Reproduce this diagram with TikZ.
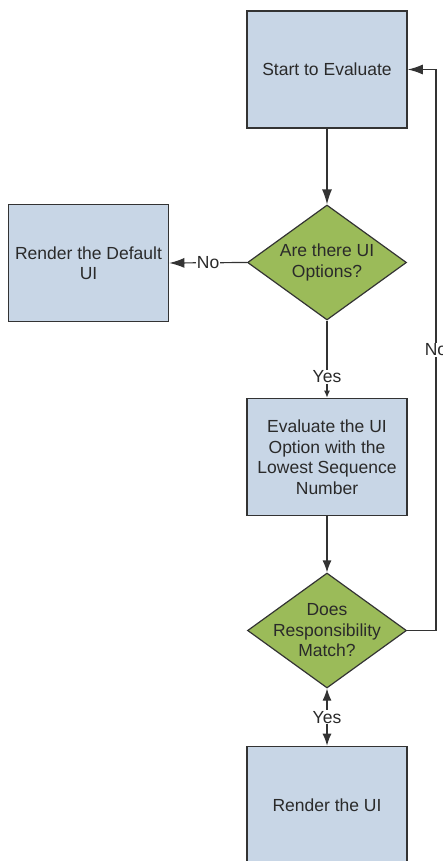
\documentclass[tikz,border=0pt]{standalone}
\usepackage{fontspec}
\setmainfont{Liberation Sans}
\usetikzlibrary{shapes.geometric,arrows.meta}
\definecolor{boxfill}{HTML}{C8D6E6}
\definecolor{decfill}{HTML}{9BBB59}
\definecolor{edge}{HTML}{333333}
\definecolor{txtc}{HTML}{2A2A2A}
\tikzset{
  procbox/.style={draw=edge, line width=1.6pt, fill=boxfill, rectangle, minimum width=160pt, minimum height=117pt, inner sep=0pt, align=center, text=txtc, font=\fontsize{17.5}{20.5}\selectfont},
  decbox/.style={draw=edge, line width=1.2pt, fill=decfill, diamond, minimum width=159pt, minimum height=115pt, inner sep=0pt},
  dectext/.style={align=center, text=txtc, font=\fontsize{17.5}{20.5}\selectfont, inner sep=0pt},
  conn/.style={draw=edge, line width=1.2pt},
  bigtip/.style={-{Latex[length=15pt,width=10pt]}},
  lbl/.style={fill=white, inner sep=1pt, text=txtc, font=\fontsize{17.5}{20.5}\selectfont}
}
\begin{document}
\begin{tikzpicture}[x=1pt,y=-1pt]
\useasboundingbox (0,0) rectangle (443,861);
\begin{scope}
\clip (0,0) rectangle (443,861);
\node[procbox] (start) at (327,69.5) {Start to Evaluate};
\node[procbox] (def) at (88.5,263) {Render the Default\\UI};
\node[decbox] (d1) at (327,262.5) {};
\node[dectext] (d1t) at (d1.center) {Are there UI\\Options?};
\node[procbox] (eval) at (327,457) {Evaluate the UI\\Option with the\\Lowest Sequence\\Number};
\node[decbox] (d2) at (327,630.5) {};
\node[dectext] (d2t) at (d2.center) {Does\\Responsibility\\Match?};
\node[procbox] (ui) at (327,805) {Render the UI};
\coordinate (r) at (436,630.5);

\draw[conn,bigtip] (start.south) -- (d1.north);
\draw[conn,bigtip] (d1.west) -- node[lbl]{No} (def.east);
\draw[conn,-{Latex[length=7pt,width=6pt]}] (d1.south) -- node[lbl,pos=0.73]{Yes} (eval.north);
\draw[conn,-{Latex[length=12pt,width=9pt]}] (eval.south) -- (d2.north);
\draw[conn,bigtip] (d2.east) -- (r) |- node[lbl,pos=0.25]{No} (start.east);
\draw[conn,{Latex[length=12pt,width=9pt]}-{Latex[length=12pt,width=9pt]}] (d2.south) -- node[lbl]{Yes} (ui.north);
\end{scope}
\end{tikzpicture}
\end{document}
